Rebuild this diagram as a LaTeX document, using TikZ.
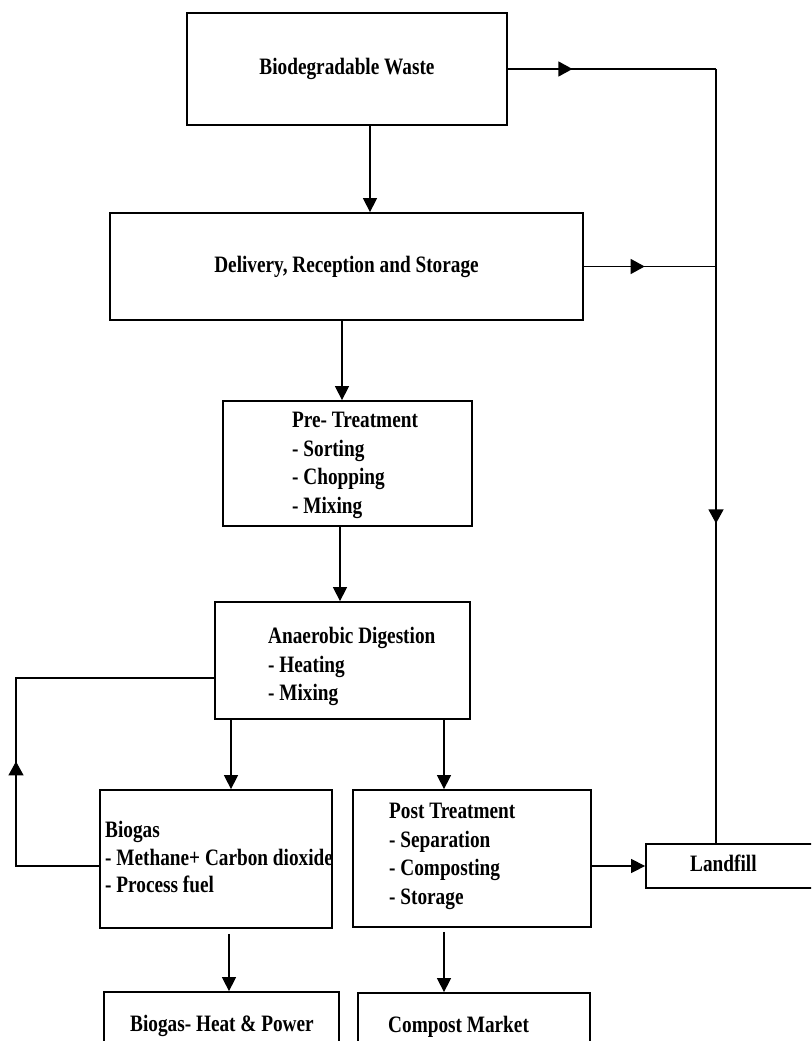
\documentclass[tikz,border=0pt]{standalone}
\usepackage{fontspec}
\setmainfont{Liberation Serif}[FakeStretch=0.82]
\usepackage{tikz}
\usetikzlibrary{arrows.meta,positioning,decorations.markings}

\begin{document}
\begin{tikzpicture}[x=1pt, y=-1pt,
  every node/.style={font=\fontsize{23.5}{28.5}\selectfont\bfseries},
  box/.style={draw, line width=1.8pt, inner sep=0pt},
  txt/.style={inner sep=0pt, align=left},
  flow/.style={line width=1.4pt, -{Triangle[length=14pt, width=14pt]}},
  wire/.style={line width=1.4pt},
  midarrow/.style={postaction={decorate}, decoration={markings, mark=at position #1 with {\arrow{Triangle[length=14pt, width=15pt]}}}}]
  \useasboundingbox (0,0) rectangle (811,1041);
  \clip (0,0) rectangle (811,1041);
  \fill[white] (0,0) rectangle (811,1041);

  % boxes
  \node[box, minimum width=320pt, minimum height=112pt] (waste) at (347,69) {Biodegradable Waste};
  \node[box, minimum width=473pt, minimum height=107pt] (drs) at (346.5,266.5) {Delivery, Reception and Storage};
  \node[box, minimum width=249pt, minimum height=125pt] (pre) at (347.5,463.5) {};
  \node[box, minimum width=255pt, minimum height=117pt] (ad) at (342.5,660.5) {};
  \node[box, minimum width=232pt, minimum height=138pt] (biogas) at (216,859) {};
  \node[box, minimum width=238pt, minimum height=137pt] (post) at (472,858.5) {};
  \node[box, minimum width=224pt, minimum height=44pt] (landfill) at (758,866) {};
  \node[box, minimum width=235pt, minimum height=78pt] (heat) at (221.5,1031) {};
  \node[box, minimum width=232pt, minimum height=77pt] (compost) at (474,1031.5) {};

  % texts
  \node[txt, anchor=north west] (pre-txt) at (292,412) {Pre- Treatment\\- Sorting\\- Chopping\\- Mixing};
  \node[txt, anchor=north west] (ad-txt) at (268,627) {Anaerobic Digestion\\- Heating\\- Mixing};
  \node[txt, anchor=north west, font=\fontsize{23.5}{27.5}\selectfont\bfseries] (biogas-txt) at (105,821) {Biogas\\- Methane+ Carbon dioxide\\- Process fuel};
  \node[txt, anchor=north west] (post-txt) at (389,803) {Post Treatment\\- Separation\\- Composting\\- Storage};
  \node[txt, anchor=base west] (landfill-txt) at (690,871) {Landfill};
  \node[txt, anchor=base west] (heat-txt) at (130,1031) {Biogas- Heat \& Power};
  \node[txt, anchor=base west] (compost-txt) at (388,1032) {Compost Market};

  % main flow
  \draw[flow] ([xshift=23pt]waste.south) -- ([xshift=23pt]waste.south |- drs.north);
  \draw[flow] ([xshift=-4.5pt]drs.south) -- ([xshift=-4.5pt]drs.south |- pre.north);
  \draw[flow] ([xshift=-7.5pt]pre.south) -- ([xshift=-7.5pt]pre.south |- ad.north);
  \draw[flow] ([xshift=-111.5pt]ad.south) -- ([xshift=-111.5pt]ad.south |- biogas.north);
  \draw[flow] ([xshift=101.5pt]ad.south) -- ([xshift=101.5pt]ad.south |- post.north);
  \draw[flow, shorten <=5pt] ([xshift=13pt]biogas.south) -- ([xshift=13pt]biogas.south |- heat.north);
  \draw[flow, shorten <=4pt] ([xshift=-28pt]post.south) -- ([xshift=-28pt]post.south |- compost.north);
  \draw[flow] (post.east |- landfill.west) -- (landfill.west);

  % reject line to landfill
  \coordinate (tr) at (716,69);
  \draw[wire, midarrow=0.31] (waste.east) -- (tr);
  \draw[wire, midarrow=0.46] (drs.east) -- (drs.east -| tr);
  \draw[wire, midarrow=0.587] (tr) -- (tr |- landfill.north);

  % biogas recycle
  \coordinate (fbtop) at (16,678);
  \coordinate (fbbot) at (16,866);
  \draw[wire, midarrow=0.4] (fbbot -| biogas.west) -- (fbbot) -- (fbtop) -- (fbtop -| ad.west);
\end{tikzpicture}
\end{document}
